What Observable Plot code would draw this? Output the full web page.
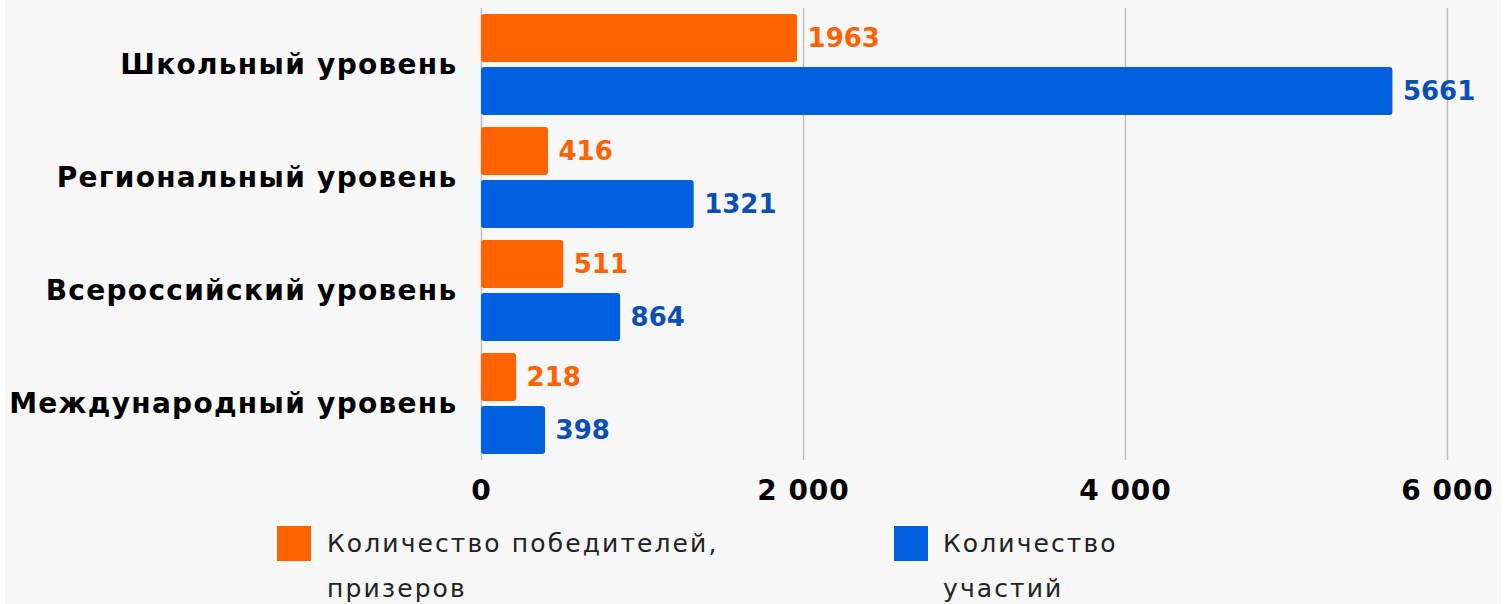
<!DOCTYPE html>
<html>
<head>
<meta charset="utf-8">
<script src="https://cdn.jsdelivr.net/npm/d3@7"></script>
<script src="https://cdn.jsdelivr.net/npm/@observablehq/plot@0.6"></script>
<style>
  html, body { margin: 0; padding: 0; background: #ffffff; }
  #wrap { position: absolute; left: 5px; top: 0; width: 1496px; height: 604px; background: #f7f7f7; overflow: hidden; }
  #chart { position: absolute; left: 0; top: 0; }
  .leg { position: absolute; font-family: "DejaVu Sans", sans-serif; font-size: 25px; letter-spacing: 2.1px; color: #222; line-height: 45px; }
  .sw { position: absolute; width: 34px; height: 35px; }
  #chart svg g[aria-label="fy-axis tick label"] text { font-size: 28px; letter-spacing: 1.3px; }
  #chart svg g[aria-label="x-axis tick label"] text { font-size: 28px; letter-spacing: 1px; }
</style>
</head>
<body>
<div id="wrap">
  <div id="chart"></div>
  <div id="legend"></div>
</div>
<script>
const levels = ["Школьный уровень", "Региональный уровень", "Всероссийский уровень", "Международный уровень"];
const seriesNames = ["Количество победителей, призеров", "Количество участий"];
const winners = [1963, 416, 511, 218];
const participations = [5661, 1321, 864, 398];
const xTicks = [0, 2000, 4000, 6000];
const barColors = ["#ff6200", "#0060e0"];
const labelColors = ["#ff6200", "#0b4fb5"];

const data = levels.flatMap((level, i) => [
  {level, series: seriesNames[0], value: winners[i]},
  {level, series: seriesNames[1], value: participations[i]}
]);

const fmt = d => d3.format(",")(d).replace(/,/g, " ");

const chart = Plot.plot({
  width: 1496,
  height: 515,
  marginLeft: 476,
  marginRight: 54,
  marginTop: 7,
  marginBottom: 55,
  style: {background: "transparent", fontFamily: "'DejaVu Sans', sans-serif", fontSize: "27px", fontWeight: "700", color: "#000"},
  x: {domain: [0, 6000], ticks: xTicks, tickFormat: fmt, tickSize: 0, tickPadding: 20, label: null},
  y: {domain: seriesNames, axis: null, paddingInner: 0.094, paddingOuter: 0.1},
  fy: {domain: levels, label: null, padding: 0, tickSize: 0, tickPadding: 24, axis: "left"},
  color: {domain: seriesNames, range: barColors},
  marks: [
    Plot.ruleX(xTicks, {stroke: "#bdbdbd", strokeWidth: 1.5}),
    Plot.barX(data, {fy: "level", y: "series", x: "value", fill: "series", rx: 3}),
    Plot.text(data, {fy: "level", y: "series", x: "value", text: d => String(d.value), textAnchor: "start", dx: 10,
      fill: d => labelColors[seriesNames.indexOf(d.series)], fontWeight: 700, fontSize: 26})
  ]
});
document.getElementById("chart").appendChild(chart);

const legend = document.getElementById("legend");
const legendItems = [
  {name: "Количество победителей,<br>призеров", color: barColors[0], sx: 272, tx: 322},
  {name: "Количество<br>участий", color: barColors[1], sx: 889, tx: 938}
];
legendItems.forEach(it => {
  const sw = document.createElement("div");
  sw.className = "sw";
  sw.style.left = it.sx + "px"; sw.style.top = "526px"; sw.style.background = it.color;
  legend.appendChild(sw);
  const t = document.createElement("div");
  t.className = "leg";
  t.style.left = it.tx + "px"; t.style.top = "521px";
  t.innerHTML = it.name;
  legend.appendChild(t);
});
</script>
</body>
</html>
